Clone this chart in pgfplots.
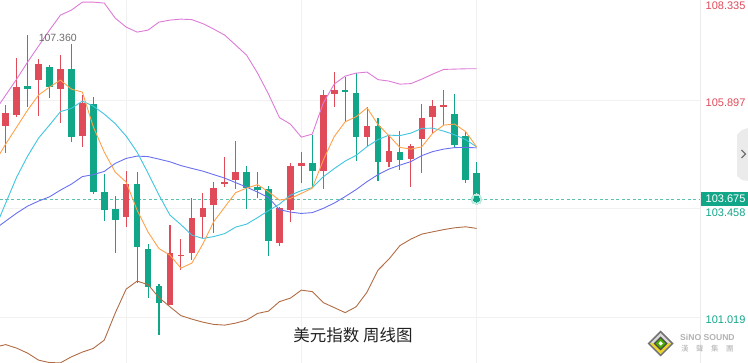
\documentclass[border=0pt]{standalone}
\usepackage{pgfplots}
\pgfplotsset{compat=1.18}
\usepackage{pgfplotstable}
\usepackage{fontspec}
\setmainfont{Liberation Sans}
\newfontfamily\cjk{Noto Sans CJK SC}
\definecolor{cred}{HTML}{DF4B59}
\definecolor{cgreen}{HTML}{12A688}
\definecolor{cdash}{HTML}{5CC2AC}
\definecolor{halo1}{HTML}{C2EAE1}
\definecolor{bbup}{HTML}{DD7BD6}
\definecolor{bblo}{HTML}{B06C45}
\definecolor{mamid}{HTML}{6A70F0}
\definecolor{maten}{HTML}{3FC5E0}
\definecolor{mafive}{HTML}{FFA14A}
\definecolor{gridc}{HTML}{F1F1F1}
\definecolor{labgray}{HTML}{6B6B6B}

\pgfplotstableread{
i O H L C
1 105.320 105.785 104.707 105.598
2 105.560 106.847 105.522 106.196
4 106.346 106.811 105.545 106.705
6 106.137 106.907 105.374 106.586
8 105.096 106.009 104.849 105.836
12 103.264 104.303 103.053 104.011
16 101.295 103.091 101.295 102.455
17 102.406 102.770 102.080 102.428
18 102.455 103.690 102.305 103.255
19 103.277 103.816 102.792 103.466
20 103.540 104.049 102.904 103.915
21 104.004 104.611 103.951 104.063
22 104.101 104.977 103.892 104.281
26 102.693 103.502 102.626 103.466
27 103.427 104.489 103.165 104.422
28 104.422 104.723 104.027 104.483
30 104.303 106.121 103.892 106.009
31 106.032 106.532 105.747 106.121
34 105.060 105.733 104.871 105.320
36 104.512 105.111 104.400 104.752
38 104.566 104.909 103.951 104.864
39 105.021 105.807 104.265 105.500
40 105.522 105.897 105.134 105.762
41 105.758 106.121 105.336 105.774
}\upcandles

\pgfplotstableread{
i O H L C
3 106.218 107.360 105.733 106.144
5 106.645 106.683 105.949 106.196
7 106.586 107.154 104.961 105.073
9 105.807 105.971 103.800 103.838
10 103.838 104.236 103.187 103.427
11 103.443 103.742 102.469 103.203
13 104.011 104.287 101.782 102.604
14 102.545 102.664 101.445 101.706
15 101.728 101.759 100.621 101.346
23 104.281 104.422 103.443 103.928
24 103.951 104.287 103.690 103.876
25 103.892 103.973 102.395 102.738
29 104.483 105.111 103.951 104.303
32 106.121 106.407 105.410 106.099
33 106.061 106.496 104.534 105.060
35 105.320 105.486 104.085 104.512
37 104.736 105.201 104.325 104.550
42 105.583 106.032 104.813 104.887
43 105.089 105.185 104.027 104.101
44 104.251 104.512 103.675 103.675
}\downcandles

\pgfplotstableread{
i up mid lo ten five
0 105.650 103.001 100.352 103.001 104.505
1 106.009 103.181 100.408 103.585 104.909
2 106.368 103.360 100.329 104.168 105.291
3 106.750 103.517 100.217 104.640 105.672
4 107.109 103.630 100.060 105.044 106.009
5 107.468 103.726 100.004 105.336 106.189
6 107.805 103.876 100.000 105.639 106.346
7 107.917 104.011 100.134 105.711 106.144
8 108.097 104.180 100.240 105.875 106.077
9 108.097 104.224 100.323 105.762 105.298
10 108.075 104.296 100.509 105.583 104.730
11 107.738 104.476 101.115 105.369 104.281
12 107.536 104.588 101.654 105.089 104.056
13 107.424 104.640 101.834 104.730 103.427
14 107.468 104.629 101.755 104.258 102.934
15 107.648 104.572 101.463 103.764 102.563
16 107.693 104.512 101.257 103.315 102.417
17 107.715 104.427 101.059 103.102 102.125
18 107.704 104.364 100.980 102.866 102.238
19 107.614 104.303 100.913 102.792 102.664
20 107.491 104.224 100.861 102.833 103.169
21 107.356 104.146 100.846 102.900 103.495
22 107.132 104.045 100.891 103.046 103.820
23 106.907 103.944 100.958 103.113 103.921
24 106.503 103.832 101.108 103.259 104.000
25 106.032 103.708 101.160 103.416 103.838
26 105.504 103.439 101.373 103.562 103.652
27 105.358 103.383 101.452 103.764 103.690
28 105.066 103.353 101.631 103.865 103.802
29 105.134 103.371 101.598 103.933 103.921
30 105.830 103.466 101.351 104.175 104.550
31 106.256 103.585 101.239 104.359 105.078
32 106.436 103.731 101.126 104.528 105.410
33 106.503 103.888 101.257 104.656 105.522
34 106.526 104.067 101.587 104.853 105.724
35 106.357 104.224 102.080 105.010 105.347
36 106.324 104.348 102.327 105.111 105.100
37 106.256 104.438 102.631 105.100 104.835
38 106.267 104.516 102.776 105.156 104.797
39 106.368 104.651 102.889 105.262 104.849
40 106.481 104.741 102.940 105.268 105.156
41 106.586 104.797 102.990 105.201 105.336
42 106.593 104.831 103.030 105.118 105.358
43 106.600 104.835 103.053 105.010 105.190
44 106.600 104.826 103.017 104.849 104.849
}\lines

\pgfplotsset{
  wick/.style={draw=none, mark=none, forget plot,
    error bars/.cd, y dir=both, y explicit, error mark=none,
    error bar style={draw=#1, line width=1.1pt}},
  body/.style={draw=none, mark=none, forget plot,
    error bars/.cd, y dir=both, y explicit, error mark=none,
    error bar style={draw=#1, line width=6.6pt}},
}

\begin{document}
\begin{tikzpicture}[x=1pt,y=1pt]
\useasboundingbox (0,0) rectangle (748,363);
\begin{axis}[at={(0,0)}, anchor=south west, scale only axis,
  width=700pt, height=363pt,
  xmin=0.4795, xmax=64.406, ymin=99.993, ymax=108.142,
  xtick={12,28,44}, ytick={101.019,103.458,105.897},
  xticklabels={}, yticklabels={},
  grid=major, major grid style={draw=gridc, line width=1pt},
  axis line style={draw=none}, tick style={draw=none},
  clip mode=individual]

% last price dashed line
\addplot[cdash, dash pattern=on 3pt off 2.5pt, line width=0.8pt, forget plot]
  coordinates {(0.4795,103.675) (64.406,103.675)};

% wicks
\addplot[wick=cred] table[x=i, y expr={(\thisrow{H}+\thisrow{L})/2},
  y error expr={(\thisrow{H}-\thisrow{L})/2}] {\upcandles};
\addplot[wick=cgreen] table[x=i, y expr={(\thisrow{H}+\thisrow{L})/2},
  y error expr={(\thisrow{H}-\thisrow{L})/2}] {\downcandles};
% bodies
\addplot[body=cred] table[x=i, y expr={(\thisrow{O}+\thisrow{C})/2},
  y error expr={max(abs(\thisrow{C}-\thisrow{O})/2,0.014)}] {\upcandles};
\addplot[body=cgreen] table[x=i, y expr={(\thisrow{O}+\thisrow{C})/2},
  y error expr={max(abs(\thisrow{C}-\thisrow{O})/2,0.014)}] {\downcandles};

% bands and averages
\addplot[bbup, line width=0.9pt, mark=none] table[x=i, y=up] {\lines};
\addplot[bblo, line width=0.9pt, mark=none] table[x=i, y=lo] {\lines};
\addplot[mamid, line width=0.9pt, mark=none] table[x=i, y=mid] {\lines};
\addplot[maten, line width=0.9pt, mark=none] table[x=i, y=ten] {\lines};
\addplot[mafive, line width=0.9pt, mark=none] table[x=i, y=five] {\lines};

% glowing last point
\addplot[color=halo1, only marks, mark=*, mark size=5.5pt, mark options={solid, fill=halo1, draw=halo1, line width=0pt}] coordinates {(44,103.675)};
\addplot[color=cgreen, only marks, mark=*, mark size=3pt, mark options={solid, fill=cgreen, draw=cgreen, line width=0pt}] coordinates {(44,103.675)};

% high marker
\draw[labgray, line width=0.5pt, dash pattern=on 1pt off 1pt] (axis cs:3,107.360) ++(1pt,0) -- ++(9pt,0);
\node[anchor=west, inner sep=0pt, text=labgray, font=\fontsize{10.5}{10.5}\selectfont]
  at ([xshift=11pt,yshift=-3pt]axis cs:3,107.360) {107.360};
\end{axis}

% right axis area
\draw[black!8, line width=0.8pt] (700.5,0) -- (700.5,363);
\begin{scope}[font=\fontsize{11}{11}\selectfont]
\node[anchor=west, inner sep=0pt, text=cred] at (705.5,357.5) {108.335};
\node[anchor=west, inner sep=0pt, text=cred] at (705.5,260.7) {105.897};
\node[anchor=west, inner sep=0pt, text=cgreen] at (705.5,150.5) {103.458};
\node[anchor=west, inner sep=0pt, text=cgreen] at (705.5,43) {101.019};
\fill[cgreen] (701,157) rectangle (748,171.3);
\node[anchor=west, inner sep=0pt, text=white] at (705.5,164.2) {103.675};
\end{scope}

% side tab
\fill[black!8] (748,235) -- (742,233) -- (737,228) -- (737,187) -- (742,183) -- (748,182) -- cycle;
\draw[black!55, line width=1.1pt] (741.5,213) -- (745.5,209) -- (741.5,205);

% title
\node[text=black!87, font=\cjk\fontsize{16.5}{16.5}\selectfont] at (353,28) {美元指数 周线图};

% logo
\begin{scope}[shift={(660.7,19.5)}]
\fill[black!55] (0,13) -- (13,0) -- (0,-13) -- (-13,0) -- cycle;
\fill[black!15] (0,10.5) -- (10.5,0) -- (0,-10.5) -- (-10.5,0) -- cycle;
\fill[yellow!70!brown] (-10.5,0) -- (0,-10.5) -- (10.5,0) -- (7,0) -- (0,-7) -- (-7,0) -- cycle;
\fill[black!70] (0,7) -- (7,0) -- (0,-7) -- (-7,0) -- cycle;
\fill[green!55!black!70!yellow] (0,5) -- (5,0) -- (0,-5) -- (-5,0) -- cycle;
\fill[white] (0,2.2) -- (2.2,0) -- (0,-2.2) -- (-2.2,0) -- cycle;
\end{scope}
\node[anchor=west, inner sep=0pt, text=black!30, font=\bfseries\fontsize{8.6}{8.6}\selectfont] at (680,26) {SiNO SOUND};
\node[anchor=west, inner sep=0pt, text=black!30, font=\cjk\fontsize{7.5}{7.5}\selectfont] at (681,14.5) {漢\hspace{7.5pt}聲\hspace{7.5pt}集\hspace{7.5pt}團};
\end{tikzpicture}
\end{document}
